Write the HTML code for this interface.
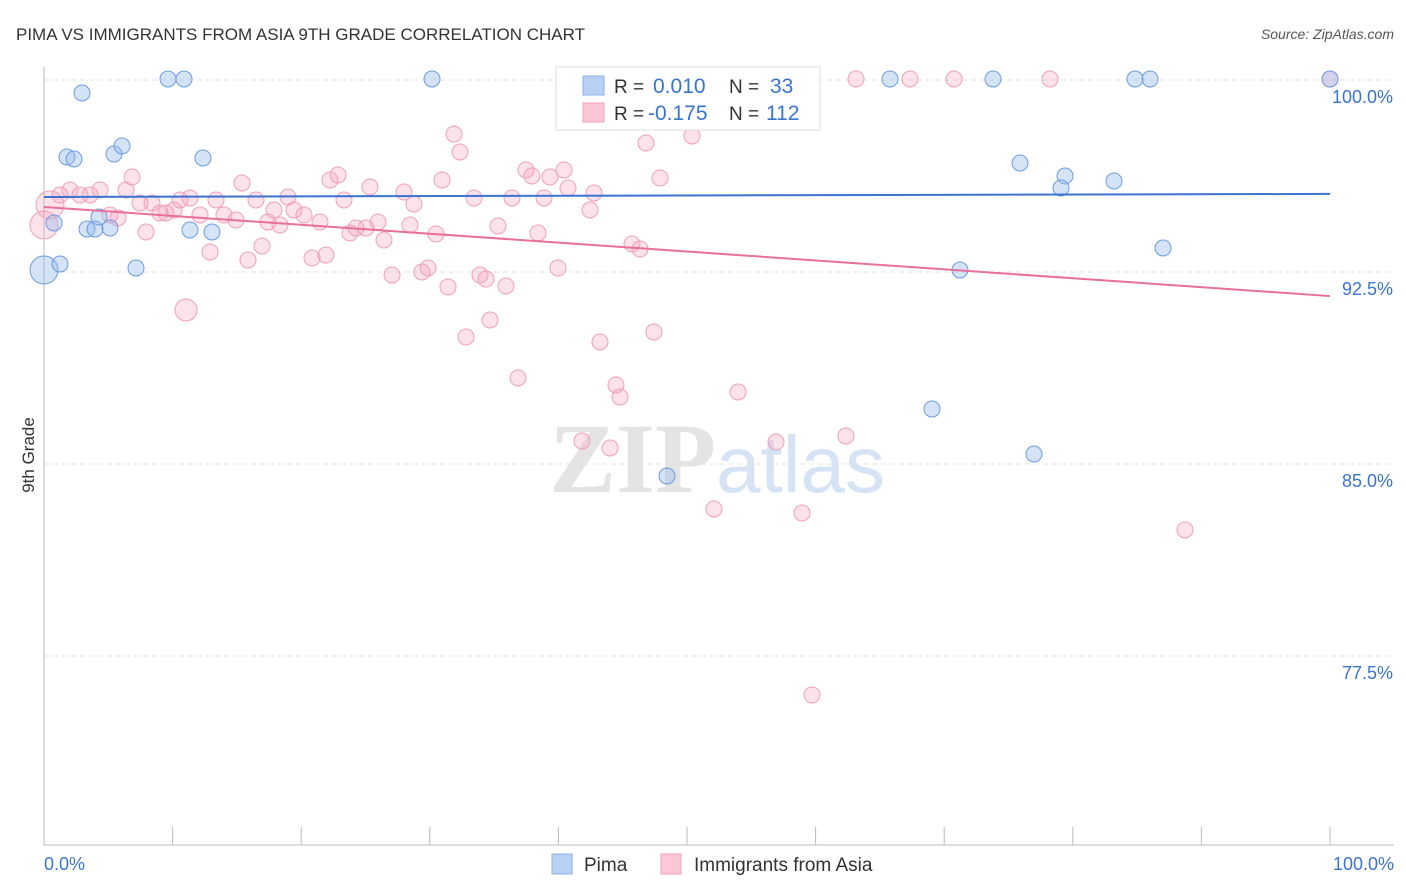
<!DOCTYPE html>
<html><head><meta charset="utf-8"><style>
body{margin:0;background:#fff;font-family:"Liberation Sans",sans-serif;}
svg{display:block}
</style></head><body>
<svg id="chart" width="1406" height="892">
<text x="16" y="40" font-size="17" fill="#333">PIMA VS IMMIGRANTS FROM ASIA 9TH GRADE CORRELATION CHART</text>
<text x="1394" y="39" font-size="14" fill="#555" text-anchor="end" font-style="italic">Source: ZipAtlas.com</text>
<text x="716" y="492" font-size="100" fill="#e4e4e4" text-anchor="end" font-family="Liberation Serif" font-weight="bold">ZIP</text>
<text x="716" y="492" font-size="80" fill="#d6e3f4">atlas</text>
<text transform="translate(34,455) rotate(-90)" font-size="17" fill="#333" text-anchor="middle">9th Grade</text>
<g id="grid"></g><g id="ticks"></g><g id="pts"></g><g id="lines"></g>
<g>
<rect x="556" y="67" width="264" height="63" fill="#fff" stroke="#ddd"/>
<rect x="583" y="76" width="21" height="19" fill="#b8d0f4" stroke="#8fb0e4"/>
<rect x="583" y="103" width="21" height="19" fill="#fcc8d8" stroke="#f0a0bb"/>
<text x="614" y="93" font-size="19" fill="#333">R = </text><text x="653" y="93" font-size="21" fill="#3a74d0">0.010</text>
<text x="729" y="93" font-size="19" fill="#333">N = </text><text x="770" y="93" font-size="21" fill="#3a74d0">33</text>
<text x="614" y="120" font-size="19" fill="#333">R = </text><text x="648" y="120" font-size="21" fill="#3a74d0">-0.175</text>
<text x="729" y="120" font-size="19" fill="#333">N = </text><text x="766" y="120" font-size="21" fill="#3a74d0">112</text>
</g>
<g>
<rect x="552" y="854" width="20" height="20" fill="#b8d0f4" stroke="#8fb0e4"/>
<text x="584" y="871" font-size="19" fill="#333">Pima</text>
<rect x="661" y="854" width="20" height="20" fill="#fcc8d8" stroke="#f0a0bb"/>
<text x="694" y="871" font-size="19" fill="#333">Immigrants from Asia</text>
</g>
</svg>
<script>
const yTicks=[100,92.5,85,77.5];
const yTickLabels=["100.0%","92.5%","85.0%","77.5%"];
const xTickLabels=["0.0%","100.0%"];
const pimaPx=[[44,270],[82,93],[168,79],[184,79],[432,79],[890,79],[993,79],[1135,79],[1150,79],[1330,79],[67,157],[74,159],[114,154],[122,146],[203,158],[54,223],[60,264],[87,229],[95,229],[99,217],[110,228],[136,268],[190,230],[212,232],[1020,163],[1065,176],[1061,188],[1114,181],[1163,248],[960,270],[932,409],[1034,454],[667,476]];
const asiaPx=[[44,225],[50,205],[60,195],[70,190],[80,195],[90,195],[100,190],[110,215],[118,218],[126,190],[132,177],[140,203],[146,232],[152,203],[160,213],[166,213],[174,210],[180,200],[186,310],[190,198],[200,215],[210,252],[216,200],[224,215],[236,220],[242,183],[248,260],[256,200],[262,246],[268,222],[274,210],[280,225],[288,197],[294,210],[304,215],[312,258],[320,222],[326,255],[330,180],[338,175],[344,200],[350,233],[356,228],[366,228],[370,187],[378,222],[384,240],[392,275],[404,192],[410,225],[414,204],[422,272],[428,268],[436,234],[442,180],[448,287],[454,134],[460,152],[466,337],[474,198],[480,275],[486,279],[490,320],[498,226],[506,286],[512,198],[518,378],[526,170],[532,176],[538,233],[544,198],[550,177],[558,268],[564,170],[568,188],[582,441],[594,193],[590,210],[600,342],[610,448],[616,385],[620,397],[632,244],[640,249],[646,143],[654,332],[660,178],[692,136],[714,509],[718,110],[724,79],[738,392],[776,442],[802,513],[812,695],[846,436],[856,79],[910,79],[954,79],[1050,79],[1185,530],[1330,79]];
const pimaX=pimaPx.map(p=>(p[0]-44)/12.86), pimaY=pimaPx.map(p=>100-(p[1]-80)/25.6);
const asiaX=asiaPx.map(p=>(p[0]-44)/12.86), asiaY=asiaPx.map(p=>100-(p[1]-80)/25.6);
const pimaTrend=[95.43,95.55];
const asiaTrend=[95.04,91.56];
const X=v=>44+v*12.86, Y=v=>80+(100-v)*25.6;
const NS="http://www.w3.org/2000/svg";
function mk(t,a,parent){const e=document.createElementNS(NS,t);for(const k in a)e.setAttribute(k,a[k]);document.getElementById(parent).appendChild(e);return e;}
yTicks.forEach((t,i)=>{
 const g=mk('line',{x1:44,x2:1394,y1:Y(t),y2:Y(t),stroke:'#e2e2e2','stroke-dasharray':'5,4'},'grid');
 
 
 const l=mk('text',{x:1393,y:Y(t)+23,'font-size':18,fill:'#3a74d0','text-anchor':'end'},'ticks');
 l.textContent=yTickLabels[i];
 
 
});
const ax=mk('line',{x1:44,x2:1394,y1:845,y2:845,stroke:'#bbb'},'ticks');


const ay=mk('line',{x1:44,x2:44,y1:67,y2:845,stroke:'#bbb'},'ticks');


for(let i=0;i<=10;i++){const t=mk('line',{x1:X(i*10),x2:X(i*10),y1:827,y2:845,stroke:'#bbb'},'ticks');
 
 }
[[0,'start',44],[100,'end',1394]].forEach((d,i)=>{const l=mk('text',{x:d[2],y:870,'font-size':18,fill:'#3a74d0','text-anchor':d[1]},'ticks');l.textContent=xTickLabels[i];
 
 });
asiaX.forEach((x,i)=>{const r=i<2?14:(i==18?11:8);const c=mk('circle',{cx:X(x),cy:Y(asiaY[i]),r:r,fill:'rgba(245,160,190,0.3)',stroke:'#eea0bb','stroke-width':1},'pts');
 
 });
pimaX.forEach((x,i)=>{const r=i==0?14:8;const c=mk('circle',{cx:X(x),cy:Y(pimaY[i]),r:r,fill:'rgba(150,185,235,0.4)',stroke:'#6d9ce0','stroke-width':1},'pts');
 
 });
const bl=mk('line',{x1:X(0),x2:X(100),y1:Y(pimaTrend[0]),y2:Y(pimaTrend[1]),stroke:'#3a74d0','stroke-width':2},'lines');


const pl=mk('line',{x1:X(0),x2:X(100),y1:Y(asiaTrend[0]),y2:Y(asiaTrend[1]),stroke:'#e8709a','stroke-width':2},'lines');


</script>
</body></html>
